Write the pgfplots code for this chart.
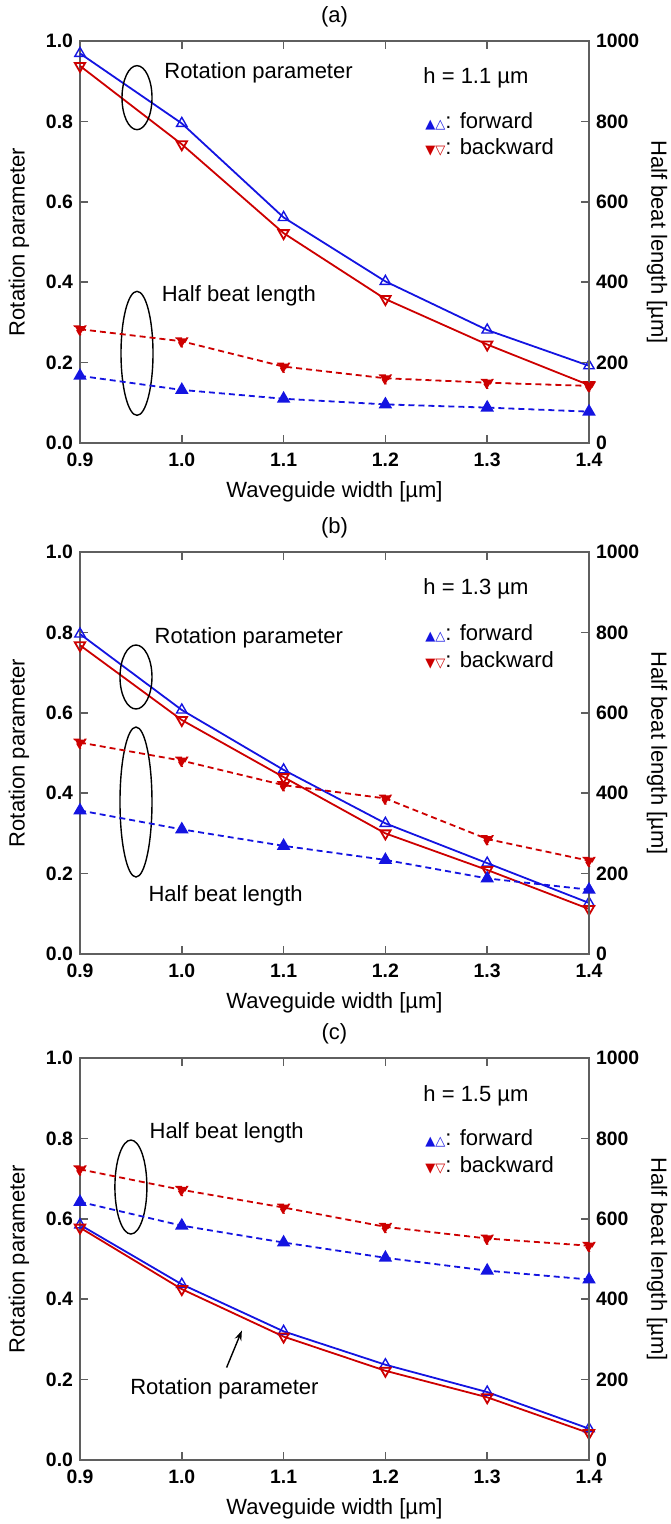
\documentclass[border=0pt]{standalone}
\usepackage{pgfplots}
\pgfplotsset{compat=1.18}
\usepackage{pgfplotstable}
\usepackage{fontspec}
\setmainfont{Liberation Sans}
\newfontfamily\symfont{DejaVu Sans}
\usetikzlibrary{arrows.meta}

\definecolor{cblue}{RGB}{20,20,225}
\definecolor{cred}{RGB}{205,0,0}
\definecolor{caxis}{RGB}{95,95,95}

\newcommand\lab{\fontsize{11}{13}\selectfont}
\newcommand\fwd{\textcolor{cblue}{\symfont\fontsize{6.5}{7}\selectfont ▲△}: forward}
\newcommand\bwd{\textcolor{cred}{\symfont\fontsize{6.5}{7}\selectfont ▼▽}: backward}

% x  rotF  rotB  hblF  hblB
\pgfplotstableread{
x    rf     rb     hf   hb
0.9  0.969  0.938  167  283
1.0  0.795  0.743  132  253
1.1  0.561  0.522  110  190
1.2  0.402  0.358   96  161
1.3  0.281  0.245   88  150
1.4  0.192  0.144   78  142
}\dataA
\pgfplotstableread{
x    rf     rb     hf   hb
0.9  0.796  0.768  357  526
1.0  0.607  0.582  310  481
1.1  0.458  0.440  269  420
1.2  0.325  0.300  234  387
1.3  0.226  0.209  188  286
1.4  0.127  0.112  160  232
}\dataB
\pgfplotstableread{
x    rf     rb     hf   hb
0.9  0.585  0.578  642  723
1.0  0.437  0.425  583  672
1.1  0.320  0.307  541  628
1.2  0.237  0.222  503  580
1.3  0.169  0.156  471  551
1.4  0.078  0.067  449  533
}\dataC

\pgfplotsset{
  common/.style={
    scale only axis, width=254.5pt, height=201pt,
    xmin=0.9, xmax=1.4, clip=false,
    tick align=inside, major tick length=4pt,
    axis line style={caxis, line width=0.8pt},
    tick style={caxis, line width=0.8pt},
    /pgf/number format/assume math mode=true,
    tick label style={font=\bfseries\fontsize{9.7}{11}\selectfont},
  },
  leftax/.style={
    common, ymin=0, ymax=1,
    xtick={0.9,1.0,1.1,1.2,1.3,1.4},
    ytick={0,0.2,0.4,0.6,0.8,1.0},
    ytick pos=left,
    xticklabel style={yshift=-1.5pt, /pgf/number format/.cd, fixed, fixed zerofill, precision=1},
    yticklabel style={/pgf/number format/.cd, fixed, fixed zerofill, precision=1},
  },
  rightax/.style={
    common, ymin=0, ymax=1000,
    axis x line=none, axis y line*=right,
    ytick={0,200,400,600,800,1000},
    yticklabel style={/pgf/number format/1000 sep={}},
  },
  rot/.style={line width=0.9pt, mark size=3pt, mark options={solid, line width=0.7pt}},
  hbl/.style={line width=0.9pt, dash pattern=on 3pt off 2pt, mark size=3pt, mark options={solid}},
}

\newcommand\labels[1]{%
  \node[font=\lab, rotate=90] at ([xshift=-30.5pt]axis description cs:0,0.5) {Rotation parameter};
  \node[font=\lab, rotate=-90] at ([xshift=34pt]axis description cs:1,0.5) {Half beat length [µm]};
  \node[font=\lab] at ([yshift=-24.5pt]axis description cs:0.5,0) {Waveguide width [µm]};
  \node[font=\lab] at ([yshift=12pt]axis description cs:0.5,1) {#1};
}

\begin{document}
\begin{tikzpicture}
\useasboundingbox (0,0) rectangle (335pt,762pt);

% ---------------- (a)
\begin{axis}[leftax, at={(40pt,540.5pt)}, anchor=south west]
  \addplot[rot, cblue, mark=triangle] table[x=x, y=rf] {\dataA};
  \addplot[rot, cred, mark=triangle, mark options={rotate=180}] table[x=x, y=rb] {\dataA};
  \labels{(a)}
  \draw[line width=0.7pt] (axis cs:0.956,0.859) ellipse (7.5pt and 16pt);
  \draw[line width=0.7pt] (axis cs:0.956,0.223) ellipse (8pt and 31pt);
  \node[font=\lab, anchor=west, inner sep=0pt] at (axis cs:0.9825,0.92) {Rotation parameter};
  \node[font=\lab, anchor=west, inner sep=0pt] at (axis cs:0.98,0.367) {Half beat length};
  \node[font=\lab, anchor=west, inner sep=0pt] at (axis cs:1.237,0.908) {h = 1.1 µm};
  \node[font=\lab, anchor=west, inner sep=0pt] at (axis cs:1.239,0.80) {\fwd};
  \node[font=\lab, anchor=west, inner sep=0pt] at (axis cs:1.239,0.735) {\bwd};
\end{axis}
\begin{axis}[rightax, at={(40pt,540.5pt)}, anchor=south west]
  \addplot[hbl, cblue, mark=triangle*] table[x=x, y=hf] {\dataA};
  \addplot[hbl, cred, mark=triangle*, mark options={rotate=180}] table[x=x, y=hb] {\dataA};
\end{axis}

% ---------------- (b)
\begin{axis}[leftax, at={(40pt,285pt)}, anchor=south west]
  \addplot[rot, cblue, mark=triangle] table[x=x, y=rf] {\dataB};
  \addplot[rot, cred, mark=triangle, mark options={rotate=180}] table[x=x, y=rb] {\dataB};
  \labels{(b)}
  \draw[line width=0.7pt] (axis cs:0.955,0.689) ellipse (8pt and 16pt);
  \draw[line width=0.7pt] (axis cs:0.955,0.378) ellipse (8pt and 37.5pt);
  \node[font=\lab, anchor=west, inner sep=0pt] at (axis cs:0.973,0.786) {Rotation parameter};
  \node[font=\lab, anchor=west, inner sep=0pt] at (axis cs:0.967,0.144) {Half beat length};
  \node[font=\lab, anchor=west, inner sep=0pt] at (axis cs:1.237,0.908) {h = 1.3 µm};
  \node[font=\lab, anchor=west, inner sep=0pt] at (axis cs:1.239,0.798) {\fwd};
  \node[font=\lab, anchor=west, inner sep=0pt] at (axis cs:1.239,0.731) {\bwd};
\end{axis}
\begin{axis}[rightax, at={(40pt,285pt)}, anchor=south west]
  \addplot[hbl, cblue, mark=triangle*] table[x=x, y=hf] {\dataB};
  \addplot[hbl, cred, mark=triangle*, mark options={rotate=180}] table[x=x, y=hb] {\dataB};
\end{axis}

% ---------------- (c)
\begin{axis}[leftax, at={(40pt,32pt)}, anchor=south west]
  \addplot[rot, cblue, mark=triangle] table[x=x, y=rf] {\dataC};
  \addplot[rot, cred, mark=triangle, mark options={rotate=180}] table[x=x, y=rb] {\dataC};
  \labels{(c)}
  \draw[line width=0.7pt] (axis cs:0.95,0.679) ellipse (8pt and 23.5pt);
  \draw[line width=0.7pt, -{Stealth[length=5pt, width=3.5pt]}] (axis cs:1.044,0.23) -- (axis cs:1.059,0.322);
  \node[font=\lab, anchor=west, inner sep=0pt] at (axis cs:0.968,0.814) {Half beat length};
  \node[font=\lab, anchor=west, inner sep=0pt] at (axis cs:0.949,0.176) {Rotation parameter};
  \node[font=\lab, anchor=west, inner sep=0pt] at (axis cs:1.237,0.907) {h = 1.5 µm};
  \node[font=\lab, anchor=west, inner sep=0pt] at (axis cs:1.239,0.80) {\fwd};
  \node[font=\lab, anchor=west, inner sep=0pt] at (axis cs:1.239,0.733) {\bwd};
\end{axis}
\begin{axis}[rightax, at={(40pt,32pt)}, anchor=south west]
  \addplot[hbl, cblue, mark=triangle*] table[x=x, y=hf] {\dataC};
  \addplot[hbl, cred, mark=triangle*, mark options={rotate=180}] table[x=x, y=hb] {\dataC};
\end{axis}
\end{tikzpicture}
\end{document}
